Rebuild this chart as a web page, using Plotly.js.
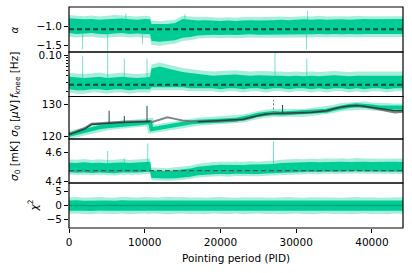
<!DOCTYPE html>
<html><head><meta charset="utf-8">
<script src="https://cdn.plot.ly/plotly-3.0.1.min.js"></script>
<style>html,body{margin:0;padding:0;background:#fff}#chart{width:412px;height:273px}</style>
</head><body><div id="chart"></div>
<script>
// ---------- data ----------
const pid = [0,1000,2000,3000,4000,5000,6000,7000,8000,9000,10000,10700,10900,12000,13000,14000,15000,16000,17000,18000,19000,20000,21000,22000,23000,24000,25000,26000,27000,28000,29000,30000,31000,32000,33000,34000,35000,36000,37000,38000,39000,40000,41000,42000,43000,44100];

// alpha
const alphaCoreHi = [-0.80,-0.81,-0.83,-0.82,-0.84,-0.83,-0.82,-0.81,-0.83,-0.84,-0.82,-0.83, -0.95,-0.96,-0.95,-0.92, -0.82,-0.84, -0.86,-0.85,-0.86,-0.87,-0.86,-0.87,-0.86,-0.85,-0.86,-0.86,-0.85, -0.84,-0.85,-0.84,-0.83,-0.84,-0.83,-0.84,-0.83,-0.83,-0.84,-0.83,-0.82,-0.83,-0.83,-0.82,-0.83,-0.82];
const alphaCoreLo = [-1.18,-1.20,-1.19,-1.18,-1.20,-1.21,-1.19,-1.18,-1.20,-1.19,-1.20,-1.21, -1.38,-1.40,-1.38,-1.36, -1.30,-1.28, -1.24,-1.23,-1.22,-1.23,-1.22,-1.23,-1.22,-1.21,-1.22,-1.22,-1.21, -1.21,-1.22,-1.21,-1.22,-1.21,-1.20,-1.21,-1.20,-1.21,-1.20,-1.21,-1.20,-1.20,-1.21,-1.20,-1.21,-1.20];
const alphaOuterHi = [-0.72,-0.74,-0.75,-0.73,-0.76,-0.74,-0.72,-0.73,-0.75,-0.76,-0.74,-0.75, -0.86,-0.88,-0.86,-0.84, -0.74,-0.76, -0.78,-0.77,-0.78,-0.79,-0.78,-0.79,-0.78,-0.77,-0.78,-0.77,-0.77, -0.76,-0.77,-0.76,-0.75,-0.76,-0.74,-0.76,-0.75,-0.75,-0.76,-0.74,-0.75,-0.75,-0.74,-0.75,-0.74,-0.75];
const alphaOuterLo = [-1.27,-1.29,-1.28,-1.27,-1.30,-1.30,-1.28,-1.27,-1.29,-1.28,-1.30,-1.31, -1.48,-1.50,-1.47,-1.45, -1.38,-1.36, -1.32,-1.31,-1.30,-1.31,-1.30,-1.31,-1.30,-1.29,-1.30,-1.30,-1.29, -1.29,-1.30,-1.29,-1.30,-1.29,-1.28,-1.29,-1.28,-1.29,-1.28,-1.29,-1.28,-1.28,-1.29,-1.28,-1.29,-1.28];
const alphaMean = -1.08;
const alphaSpikePid = [1800, 5100, 9700, 31350, 7500, 15300, 31500];
const alphaSpikeVal = [-1.59, -1.63, -1.45, -1.60, -0.68, -0.70, -0.61];

// f_knee [Hz]
const fkCoreHi = [0.038,0.037,0.036,0.037,0.038,0.036,0.037,0.038,0.037,0.036,0.037,0.038, 0.055,0.060,0.055,0.050, 0.047,0.045, 0.043,0.041,0.040,0.041,0.042,0.042,0.041,0.040,0.041,0.040,0.040, 0.040,0.039,0.040,0.039,0.040,0.039,0.040,0.041,0.040,0.039,0.040,0.040,0.039,0.040,0.040,0.039,0.040];
const fkCoreLo = [0.022,0.021,0.021,0.022,0.022,0.021,0.022,0.022,0.021,0.022,0.022,0.022, 0.024,0.024,0.024,0.024, 0.024,0.023, 0.023,0.023,0.023,0.022,0.023,0.023,0.022,0.023,0.023,0.022,0.023, 0.023,0.022,0.023,0.023,0.022,0.023,0.022,0.023,0.023,0.022,0.023,0.022,0.023,0.023,0.022,0.023,0.023];
const fkOuterHi = [0.045,0.044,0.043,0.044,0.046,0.043,0.044,0.046,0.044,0.043,0.044,0.046, 0.066,0.072,0.066,0.060, 0.056,0.054, 0.051,0.049,0.048,0.049,0.051,0.051,0.049,0.048,0.049,0.048,0.048, 0.048,0.047,0.048,0.047,0.048,0.047,0.048,0.049,0.048,0.047,0.048,0.048,0.047,0.048,0.048,0.047,0.048];
const fkOuterLo = [0.019,0.018,0.018,0.019,0.019,0.018,0.019,0.019,0.018,0.019,0.019,0.019, 0.021,0.021,0.021,0.021, 0.021,0.020, 0.020,0.020,0.020,0.019,0.020,0.020,0.019,0.020,0.020,0.019,0.020, 0.020,0.019,0.020,0.020,0.019,0.020,0.019,0.020,0.020,0.019,0.020,0.019,0.020,0.020,0.019,0.020,0.020];
const fkMean = 0.0268;
const fkSpikePid = [1800, 5100, 7300, 10300, 27200, 31400];
const fkSpikeVal = [0.096, 0.108, 0.086, 0.086, 0.115, 0.086];

// sigma0 [uV]
const s0uvGreen = [120.6,121.2,121.8,122.6,122.9,123.2,123.5,123.7,123.9,124.1,124.3,124.5, 122.3,122.8,123.3,123.7, 124.1,124.4, 124.6,124.8,124.9,125.0,125.1,125.2,125.6,126.2,126.8,127.1,127.3, 127.2,127.3,127.3,127.4,127.6,127.8,128.0,128.6,129.2,129.5,129.7,129.6,129.3,129.0,128.9,129.0,129.0];
const s0uvGray = [120.8,121.6,122.6,124.0,124.2,124.4,124.5,124.6,124.7,124.8,124.8,124.8, 124.5,125.2,126.0,125.5, 125.0,124.8, 124.7,124.6,124.7,124.8,124.9,125.0,125.2,125.8,126.5,126.9,127.1, 127.2,127.2,127.3,127.4,127.5,127.6,127.9,128.6,129.2,129.5,129.6,129.3,128.8,128.3,127.8,127.5,127.7];
const s0uvDark = [120.7,121.4,122.3,123.8,124.0,124.2,124.3,124.4,124.5,124.6,124.7,124.7, null,null,null,null, null,null, 124.6,124.7,124.8,124.9,125.0,125.1,125.4,126.0,126.6,127.0,127.2, 127.2,127.2,127.3,127.4,127.5,127.7,128.0,128.6,129.2,129.5,129.6,129.4,129.0,128.6,128.2,128.0,128.1];
const s0uvSpikePid = [5300, 7300, 10300, 28200];
const s0uvSpikeBase = [124.3, 124.5, 124.7, 127.2];
const s0uvSpikeVal = [128.0, 126.4, 129.5, 129.8];
const s0uvGraySpikePid = [27000];
const s0uvGraySpikeBase = [127.2];
const s0uvGraySpikeVal = [131.3];

// sigma0 [mK]
const s0mkCoreHi = [4.530,4.528,4.532,4.527,4.530,4.526,4.529,4.531,4.527,4.530,4.533,4.536, 4.474,4.472,4.470,4.476, 4.480,4.488, 4.500,4.508,4.512,4.515,4.513,4.516,4.514,4.517,4.515,4.518,4.520, 4.528,4.530,4.533,4.531,4.535,4.533,4.536,4.534,4.537,4.535,4.538,4.536,4.535,4.537,4.534,4.536,4.535];
const s0mkCoreLo = [4.462,4.458,4.460,4.456,4.461,4.457,4.455,4.460,4.458,4.461,4.463,4.465, 4.422,4.418,4.417,4.420, 4.424,4.430, 4.440,4.446,4.448,4.450,4.447,4.451,4.449,4.452,4.450,4.453,4.455, 4.460,4.462,4.464,4.462,4.466,4.463,4.467,4.465,4.468,4.466,4.469,4.467,4.466,4.468,4.465,4.467,4.466];
const s0mkOuterHi = [4.552,4.550,4.556,4.548,4.553,4.549,4.551,4.555,4.549,4.552,4.556,4.560, 4.495,4.492,4.490,4.497, 4.500,4.508, 4.522,4.530,4.534,4.537,4.535,4.538,4.536,4.540,4.537,4.541,4.543, 4.551,4.554,4.556,4.553,4.558,4.555,4.560,4.557,4.561,4.558,4.563,4.560,4.558,4.561,4.557,4.560,4.558];
const s0mkOuterLo = [4.446,4.442,4.444,4.440,4.445,4.441,4.439,4.444,4.442,4.445,4.447,4.449, 4.406,4.402,4.401,4.404, 4.408,4.414, 4.424,4.430,4.432,4.434,4.431,4.435,4.433,4.436,4.434,4.437,4.439, 4.444,4.446,4.448,4.446,4.450,4.447,4.451,4.449,4.452,4.450,4.453,4.451,4.450,4.452,4.449,4.451,4.450];
const s0mkMean = 4.473;
const s0mkSpikePid = [5100, 7300, 10400, 27000];
const s0mkSpikeVal = [4.612, 4.560, 4.666, 4.680];

// chi^2
const chiCoreHi = [1.8,1.9,1.7,1.8,1.9,1.8,1.7,1.9,1.8,1.8,1.9,1.8, 1.9,1.8,1.9,1.8, 1.9,1.8, 1.8,1.7,1.8,1.9,1.8,1.7,1.8,1.8,1.9,1.8,1.7, 1.8,1.9,1.8,1.7,1.8,1.8,1.9,1.8,1.7,1.8,1.9,1.8,1.8,1.7,1.8,1.9,1.8];
const chiCoreLo = [-1.9,-1.8,-1.9,-2.0,-1.8,-1.9,-1.9,-1.8,-2.0,-1.9,-1.8,-1.9, -1.8,-1.9,-2.0,-1.9, -1.8,-1.9, -1.9,-2.0,-1.8,-1.9,-1.9,-1.8,-2.0,-1.9,-1.8,-1.9,-1.9, -2.0,-1.9,-1.8,-1.9,-2.0,-1.9,-1.8,-1.9,-1.9,-2.0,-1.9,-1.8,-1.9,-1.9,-2.0,-1.8,-1.9];
const chiOuterHi = [2.9,3.1,2.8,3.0,3.1,2.9,2.8,3.2,3.0,2.9,3.1,3.0, 3.1,2.9,3.2,3.0, 3.1,2.9, 3.0,2.8,3.0,3.1,2.9,2.8,3.0,3.0,3.1,2.9,2.8, 3.0,3.1,2.9,2.8,3.0,3.0,3.1,2.9,2.8,3.0,3.1,2.9,3.0,2.8,2.9,3.1,3.0];
const chiOuterLo = [-3.0,-2.9,-3.1,-3.2,-2.9,-3.0,-3.1,-2.9,-3.2,-3.0,-2.9,-3.1, -2.9,-3.0,-3.2,-3.0, -2.9,-3.1, -3.0,-3.2,-2.9,-3.0,-3.1,-2.9,-3.2,-3.0,-2.9,-3.1,-3.0, -3.2,-3.0,-2.9,-3.1,-3.2,-3.0,-2.9,-3.1,-3.0,-3.2,-3.0,-2.9,-3.1,-3.0,-3.2,-2.9,-3.0];
const chiMedian = [0.0,0.1,0.0,-0.1,0.0,0.0,0.1,0.0,-0.1,0.0,0.0,0.0, 0.0,0.0,-0.1,0.0, 0.1,0.0, 0.0,-0.1,0.0,0.0,0.0,-0.1,0.0,0.0,0.1,0.0,0.0, -0.1,0.0,0.0,0.0,-0.1,0.0,0.0,0.0,0.0,-0.1,0.0,0.0,0.0,0.0,-0.1,0.0,0.0];

const xTicks = [0, 10000, 20000, 30000, 40000];

// ---------- styling ----------
const GREEN = '#00cc96';
const LIGHT = 'rgba(0,204,150,0.35)';
const SPIKE = 'rgba(0,204,150,0.55)';
const DARK = '#1d4a3d';
const FONT = 'DejaVu Sans, Liberation Sans, sans-serif';

function band(yax, lo, hi, color) {
  return [
    {x: pid, y: lo, yaxis: yax, mode: 'lines', line: {width: 0, color: color}, hoverinfo: 'skip', showlegend: false},
    {x: pid, y: hi, yaxis: yax, mode: 'lines', line: {width: 0, color: color}, fill: 'tonexty', fillcolor: color, hoverinfo: 'skip', showlegend: false}
  ];
}
function spikes(yax, ps, base, vals, color, width, dash) {
  const xs = [], ys = [];
  ps.forEach((p, i) => {
    const b = Array.isArray(base) ? base[i] : base;
    xs.push(p, p, null); ys.push(b, vals[i], null);
  });
  return {x: xs, y: ys, yaxis: yax, mode: 'lines', line: {width: width || 1, color: color, dash: dash || 'solid'}, hoverinfo: 'skip', showlegend: false};
}
function hline(yax, v, color, width, dash) {
  return {x: [pid[0], pid[pid.length - 1]], y: [v, v], yaxis: yax, mode: 'lines', line: {color: color, width: width, dash: dash}, hoverinfo: 'skip', showlegend: false};
}

const traces = [];
// panel 1: alpha (y5)
traces.push(...band('y5', alphaOuterLo, alphaOuterHi, LIGHT));
traces.push(spikes('y5', alphaSpikePid, alphaMean, alphaSpikeVal, SPIKE, 1));
traces.push(...band('y5', alphaCoreLo, alphaCoreHi, GREEN));
traces.push(hline('y5', alphaMean, DARK, 2, '5px,3px'));
// panel 2: f_knee (y4)
traces.push(...band('y4', fkOuterLo, fkOuterHi, LIGHT));
traces.push(spikes('y4', fkSpikePid, fkMean, fkSpikeVal, SPIKE, 1));
traces.push(...band('y4', fkCoreLo, fkCoreHi, GREEN));
traces.push(hline('y4', fkMean, DARK, 2, '5px,3px'));
// panel 3: sigma0 uV (y3)
traces.push({x: pid, y: s0uvGreen, yaxis: 'y3', mode: 'lines', line: {color: LIGHT, width: 8}, hoverinfo: 'skip', showlegend: false});
traces.push({x: pid, y: s0uvGreen, yaxis: 'y3', mode: 'lines', line: {color: GREEN, width: 4}, hoverinfo: 'skip', showlegend: false});
traces.push({x: pid, y: s0uvGray, yaxis: 'y3', mode: 'lines', line: {color: 'rgba(110,110,110,0.85)', width: 2}, hoverinfo: 'skip', showlegend: false});
traces.push({x: pid, y: s0uvDark, yaxis: 'y3', mode: 'lines', line: {color: DARK, width: 1.5}, hoverinfo: 'skip', showlegend: false});
traces.push(spikes('y3', s0uvSpikePid, s0uvSpikeBase, s0uvSpikeVal, DARK, 1));
traces.push(spikes('y3', s0uvGraySpikePid, s0uvGraySpikeBase, s0uvGraySpikeVal, '#777', 1, '2px,2px'));
// panel 4: sigma0 mK (y2)
traces.push(...band('y2', s0mkOuterLo, s0mkOuterHi, LIGHT));
traces.push(spikes('y2', s0mkSpikePid, s0mkMean, s0mkSpikeVal, SPIKE, 1));
traces.push(...band('y2', s0mkCoreLo, s0mkCoreHi, GREEN));
traces.push(hline('y2', s0mkMean, '#555', 1.2, '5px,3px'));
// panel 5: chi^2 (y)
traces.push(...band('y', chiOuterLo, chiOuterHi, LIGHT));
traces.push(...band('y', chiCoreLo, chiCoreHi, GREEN));
traces.push({x: pid, y: chiMedian, yaxis: 'y', mode: 'lines', line: {color: '#00a57a', width: 1.5}, hoverinfo: 'skip', showlegend: false});

const dom = [0, 0.2036, 0.4027, 0.595, 0.7964, 1];
const tickfont = {family: FONT, size: 10.5, color: '#000'};
function yax(i, extra) {
  return Object.assign({
    domain: [dom[i], dom[i + 1]], anchor: 'x', ticks: 'outside', ticklen: 4, tickwidth: 1, tickcolor: '#000',
    showgrid: false, zeroline: false, showline: false, tickfont: tickfont, fixedrange: true
  }, extra);
}

const layout = {
  width: 412, height: 273,
  margin: {l: 69, r: 9, t: 7, b: 45},
  paper_bgcolor: '#fff', plot_bgcolor: '#fff',
  showlegend: false,
  font: {family: FONT, size: 10.5, color: '#000'},
  xaxis: {domain: [0, 1], anchor: 'y', range: [0, 44100], tickvals: xTicks, tickformat: 'd',
    ticks: 'outside', ticklen: 4, tickwidth: 1, tickcolor: '#000', showgrid: false, zeroline: false, showline: false, tickfont: tickfont},
  yaxis: yax(0, {range: [-8.15, 8.15], tickvals: [-5, 0, 5]}),
  yaxis2: yax(1, {range: [4.386, 4.697], tickvals: [4.4, 4.6], tickformat: '.1f'}),
  yaxis3: yax(2, {range: [119.3, 132.4], tickvals: [120, 130]}),
  yaxis4: yax(3, {type: 'log', range: [-1.798, -0.942], tickvals: [0.1], ticktext: ['0.10'],
    minor: {tickmode: 'array', tickvals: [0.02, 0.03, 0.04, 0.05, 0.06, 0.07, 0.08, 0.09], ticks: 'outside', ticklen: 2, tickcolor: '#000', showgrid: false}}),
  yaxis5: yax(4, {range: [-1.661, -0.516], tickvals: [-1.5, -1.0], tickformat: '.1f'}),
  shapes: [0, 1, 2, 3, 4].map(i => ({type: 'rect', xref: 'paper', yref: 'paper', x0: 0, x1: 1, y0: dom[i], y1: dom[i + 1], line: {color: '#000', width: 1.2}, layer: 'above'})),
  annotations: [
    {text: 'Pointing period (PID)', xref: 'paper', yref: 'paper', x: 0.5, y: -0.1357, xanchor: 'center', yanchor: 'middle', showarrow: false, font: {family: FONT, size: 10.5, color: '#000'}},
    {text: '<i>α</i>', xref: 'paper', yref: 'paper', x: -0.1617, y: (dom[4] + dom[5]) / 2, textangle: -90, xanchor: 'center', yanchor: 'middle', showarrow: false, font: {family: FONT, size: 10.5}},
    {text: '<i>f</i><sub>knee</sub> [Hz]', xref: 'paper', yref: 'paper', x: -0.1617, y: (dom[3] + dom[4]) / 2, textangle: -90, xanchor: 'center', yanchor: 'middle', showarrow: false, font: {family: FONT, size: 10.5}},
    {text: '<i>σ</i><sub>0</sub> [<i>μ</i>V]', xref: 'paper', yref: 'paper', x: -0.1617, y: (dom[2] + dom[3]) / 2, textangle: -90, xanchor: 'center', yanchor: 'middle', showarrow: false, font: {family: FONT, size: 10.5}},
    {text: '<i>σ</i><sub>0</sub> [mK]', xref: 'paper', yref: 'paper', x: -0.1617, y: (dom[1] + dom[2]) / 2, textangle: -90, xanchor: 'center', yanchor: 'middle', showarrow: false, font: {family: FONT, size: 10.5}},
    {text: '<i>χ</i><sup>2</sup>', xref: 'paper', yref: 'paper', x: -0.1078, y: (dom[0] + dom[1]) / 2, textangle: -90, xanchor: 'center', yanchor: 'middle', showarrow: false, font: {family: FONT, size: 10.5}}
  ]
};

Plotly.newPlot('chart', traces, layout, {staticPlot: true, displayModeBar: false});
</script></body></html>
